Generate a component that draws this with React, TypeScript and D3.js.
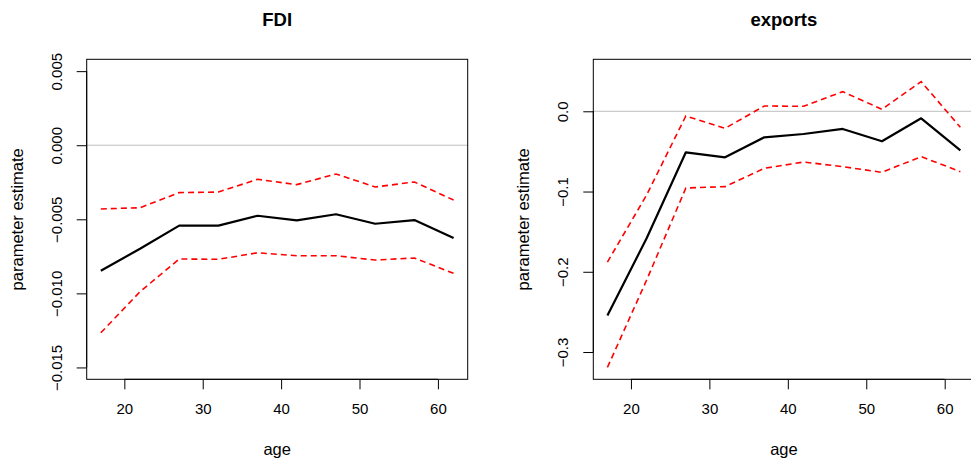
import * as d3 from "d3";
import { useRef, useEffect } from "react";

const ages: number[] = [17, 22, 27, 32, 37, 42, 47, 52, 57, 62];
const ageTicks: number[] = [20, 30, 40, 50, 60];

// FDI panel
const fdiEstimate: number[] = [-0.00847, -0.00699, -0.00543, -0.00543, -0.00476, -0.00507, -0.00466, -0.0053, -0.00505, -0.00626];
const fdiUpper: number[] = [-0.0043, -0.00422, -0.0032, -0.00316, -0.0023, -0.00266, -0.00194, -0.00282, -0.00248, -0.0037];
const fdiLower: number[] = [-0.01266, -0.00989, -0.00768, -0.0077, -0.00726, -0.00746, -0.00746, -0.00775, -0.00761, -0.00865];
const fdiTicks: number[] = [0.005, 0, -0.005, -0.01, -0.015];

// exports panel
const expEstimate: number[] = [-0.2544, -0.1583, -0.0511, -0.0574, -0.0324, -0.0283, -0.022, -0.0374, -0.0087, -0.0486];
const expUpper: number[] = [-0.1879, -0.1043, -0.0058, -0.0212, 0.0066, 0.0062, 0.0245, 0.0025, 0.037, -0.02];
const expLower: number[] = [-0.3192, -0.2103, -0.0956, -0.0939, -0.0711, -0.0632, -0.069, -0.0761, -0.0565, -0.0752];
const expTicks: number[] = [0, -0.1, -0.2, -0.3];

const FONT = "'Liberation Sans', Arial, Helvetica, sans-serif";

export default function App() {
  const svgRef: any = useRef();

  useEffect(() => {
    const w = 971;
    const h = 464;
    const svg = d3.select(svgRef.current).attr("width", w).attr("height", h);
    svg.selectAll("*").remove();

    const top = 59.3;
    const bottom = 379.3;

    const panels = [
      {
        title: "FDI",
        left: 86.7,
        right: 467.7,
        yDomain: [-0.0158, 0.0058],
        ticks: fdiTicks,
        fmt: d3.format(".3f"),
        est: fdiEstimate,
        up: fdiUpper,
        lo: fdiLower,
      },
      {
        title: "exports",
        left: 593.3,
        right: 974.5,
        yDomain: [-0.334, 0.0648],
        ticks: expTicks,
        fmt: d3.format(".1f"),
        est: expEstimate,
        up: expUpper,
        lo: expLower,
      },
    ];

    panels.forEach((p) => {
      const x = d3.scaleLinear().domain([15.2, 63.8]).range([p.left, p.right]);
      const y = d3.scaleLinear().domain(p.yDomain).range([bottom, top]);
      const g = svg.append("g").style("font-family", FONT);

      // zero reference line
      g.append("line")
        .attr("x1", p.left)
        .attr("x2", p.right)
        .attr("y1", y(0))
        .attr("y2", y(0))
        .attr("stroke", "#bebebe")
        .attr("stroke-width", 1);

      const line = d3
        .line<number>()
        .x((d, i) => x(ages[i]))
        .y((d) => y(d));

      //confidence bands
      [p.up, p.lo].forEach((band) => {
        g.append("path")
          .attr("d", line(band))
          .attr("fill", "none")
          .attr("stroke", "#ff0000")
          .attr("stroke-width", 1.6)
          .attr("stroke-dasharray", "6,4");
      });

      g.append("path")
        .attr("d", line(p.est))
        .attr("fill", "none")
        .attr("stroke", "#000")
        .attr("stroke-width", 2.2)
        .attr("stroke-linejoin", "round");

      // box
      g.append("rect")
        .attr("x", p.left)
        .attr("y", top)
        .attr("width", p.right - p.left)
        .attr("height", bottom - top)
        .attr("fill", "none")
        .attr("stroke", "#000")
        .attr("stroke-width", 1);

      // x axis
      const xAxis = d3
        .axisBottom(x)
        .tickValues(ageTicks)
        .tickSize(10)
        .tickPadding(14)
        .tickSizeOuter(0);
      const gx = g.append("g").attr("transform", `translate(0, ${bottom})`).call(xAxis);
      gx.select(".domain").attr("d", `M${x(ageTicks[0])},0H${x(ageTicks[ageTicks.length - 1])}`);
      gx.selectAll("text").style("font-size", "15px").style("font-family", FONT).attr("fill", "#000");

      // y axis
      const yAxis = d3
        .axisLeft(y)
        .tickValues(p.ticks)
        .tickSize(10)
        .tickSizeOuter(0)
        .tickFormat((d: any) => p.fmt(d).replace("-", "\u2212"));
      const gy = g.append("g").attr("transform", `translate(${p.left}, 0)`).call(yAxis);
      gy.select(".domain").attr(
        "d",
        `M0,${y(p.ticks[0])}V${y(p.ticks[p.ticks.length - 1])}`
      );
      gy.selectAll("text")
        .style("font-size", "15px")
        .style("font-family", FONT)
        .attr("fill", "#000")
        .attr("x", null)
        .attr("dy", null)
        .attr("y", 0)
        .attr("text-anchor", "middle")
        .attr("transform", "translate(-25, 0) rotate(-90)");

      // titles
      g.append("text")
        .attr("x", (p.left + p.right) / 2)
        .attr("y", 26)
        .attr("text-anchor", "middle")
        .style("font-size", "18.5px")
        .style("font-weight", "bold")
        .text(p.title);

      g.append("text")
        .attr("x", (p.left + p.right) / 2)
        .attr("y", 455)
        .attr("text-anchor", "middle")
        .style("font-size", "16.5px")
        .text("age");

      g.append("text")
        .attr("transform", `translate(${p.left - 64}, ${(top + bottom) / 2}) rotate(-90)`)
        .attr("text-anchor", "middle")
        .style("font-size", "16.5px")
        .text("parameter estimate");
    });
  }, []);

  return (
    <div style={{ position: "absolute", left: 0, top: 0, background: "#fff" }}>
      <svg ref={svgRef} style={{ display: "block" }}></svg>
    </div>
  );
}
